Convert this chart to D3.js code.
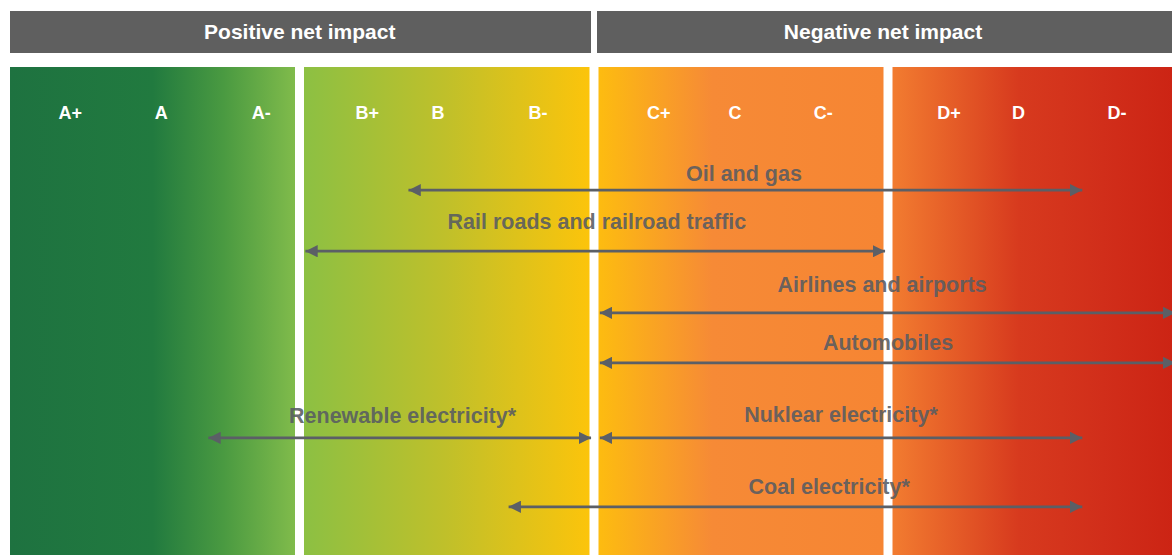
<!DOCTYPE html>
<html>
<head>
<meta charset="utf-8">
<script src="https://cdn.jsdelivr.net/npm/d3@7"></script>
<style>
  body { margin: 0; background: #fff; }
  text { font-family: Arial, "Liberation Sans", sans-serif; font-weight: bold; }
</style>
</head>
<body>
<div id="chart"></div>
<script>
// Rating scale: 4 bands (A..D), each split into +, plain, -
const bands = ["A", "B", "C", "D"];
const grades = ["A+", "A", "A-", "B+", "B", "B-", "C+", "C", "C-", "D+", "D", "D-"];
const gradePos = [0.22, 0.53, 0.87, 1.23, 1.47, 1.81, 2.22, 2.48, 2.78, 3.21, 3.45, 3.79];

const groups = ["Positive net impact", "Negative net impact"];
const groupSpan = [[0, 2], [2, 4]];

// Sectors: rating range (from, to) on the scale, and row on the chart
const sectors = ["Oil and gas", "Rail roads and railroad traffic", "Airlines and airports",
  "Automobiles", "Renewable electricity*", "Nuklear electricity*", "Coal electricity*"];
const rangeFrom = [1.37, 1.02, 2.02, 2.02, 0.69, 2.02, 1.71];
const rangeTo = [3.67, 2.99, 3.99, 3.99, 1.99, 3.67, 3.67];
const arrowRow = [2.02, 3.02, 4.03, 4.85, 6.08, 6.08, 7.21];
const labelRow = [1.74, 2.54, 3.57, 4.52, 5.72, 5.70, 6.87];
const labelAt = [2.51, 2.01, 2.98, 3.0, 1.35, 2.84, 2.80];

// gradient stops per band
const bandStops = [
  [[0, "#1e7240"], [0.5, "#217a3f"], [0.75, "#4a9a41"], [1, "#80bb4b"]],
  [[0, "#8cc043"], [0.5, "#c0c02a"], [1, "#fcc40b"]],
  [[0, "#fdbc10"], [0.4, "#f68a36"], [1, "#f68533"]],
  [[0, "#f27c30"], [0.45, "#d73a1e"], [0.75, "#d12e1a"], [1, "#cc2414"]]
];

const width = 1172;
const height = 555;
const gap = 9;

const x = d3.scaleLinear()
  .domain([0, 1, 2, 3, 4])
  .range([5.5, 299.5, 594, 888, 1178]);

const y = d3.scaleLinear()
  .domain([0, 8])
  .range([67, 555]);

const svg = d3.select("#chart")
  .append("svg")
  .attr("width", width)
  .attr("height", height);

const defs = svg.append("defs");

bands.forEach((b, i) => {
  const g = defs.append("linearGradient")
    .attr("id", "grad" + b)
    .attr("x1", "0%").attr("x2", "100%")
    .attr("y1", "0%").attr("y2", "0%");
  g.selectAll("stop")
    .data(bandStops[i])
    .enter()
    .append("stop")
    .attr("offset", d => d[0])
    .attr("stop-color", d => d[1]);
});

// arrowheads
defs.append("marker")
  .attr("id", "head")
  .attr("viewBox", "0 0 10 10")
  .attr("refX", 10).attr("refY", 5)
  .attr("markerWidth", 4.4).attr("markerHeight", 4.4)
  .attr("markerUnits", "strokeWidth")
  .attr("orient", "auto-start-reverse")
  .append("path")
  .attr("d", "M0,0 L10,5 L0,10 Z")
  .attr("fill", "#5b5f66");

// header bars
const header = svg.selectAll(".header")
  .data(groups)
  .enter()
  .append("g")
  .attr("class", "header");

header.append("rect")
  .attr("x", (d, i) => i === 0 ? 10 : x(groupSpan[i][0]) + 3)
  .attr("y", 11)
  .attr("width", (d, i) => i === 0 ? x(groupSpan[i][1]) - 13 : width - x(groupSpan[i][0]) - 3)
  .attr("height", 42)
  .attr("fill", "#5f5f5f");

header.append("text")
  .attr("x", (d, i) => (x(groupSpan[i][0]) + Math.min(x(groupSpan[i][1]), width)) / 2)
  .attr("y", 39)
  .attr("text-anchor", "middle")
  .attr("font-size", "21px")
  .attr("fill", "#fff")
  .text(d => d);

// rating bands
svg.selectAll(".band")
  .data(bands)
  .enter()
  .append("rect")
  .attr("class", "band")
  .attr("x", (d, i) => x(i) + gap / 2)
  .attr("y", y(0))
  .attr("width", (d, i) => x(i + 1) - x(i) - gap)
  .attr("height", height - y(0))
  .attr("fill", d => "url(#grad" + d + ")");

// grade labels
svg.selectAll(".grade")
  .data(grades)
  .enter()
  .append("text")
  .attr("class", "grade")
  .attr("x", (d, i) => x(gradePos[i]))
  .attr("y", 119)
  .attr("text-anchor", "middle")
  .attr("font-size", "18px")
  .attr("fill", "#fff")
  .text(d => d);

// sector ranges
svg.selectAll(".range")
  .data(sectors)
  .enter()
  .append("line")
  .attr("class", "range")
  .attr("x1", (d, i) => x(rangeFrom[i]))
  .attr("x2", (d, i) => x(rangeTo[i]))
  .attr("y1", (d, i) => y(arrowRow[i]))
  .attr("y2", (d, i) => y(arrowRow[i]))
  .attr("stroke", "#5b5f66")
  .attr("stroke-width", 2.8)
  .attr("marker-start", "url(#head)")
  .attr("marker-end", "url(#head)");

svg.selectAll(".sector")
  .data(sectors)
  .enter()
  .append("text")
  .attr("class", "sector")
  .attr("x", (d, i) => x(labelAt[i]))
  .attr("y", (d, i) => y(labelRow[i]))
  .attr("dy", "0.35em")
  .attr("text-anchor", "middle")
  .attr("font-size", "21.5px")
  .attr("fill", "#585c62")
  .attr("fill-opacity", 0.9)
  .text(d => d);
</script>
</body>
</html>
